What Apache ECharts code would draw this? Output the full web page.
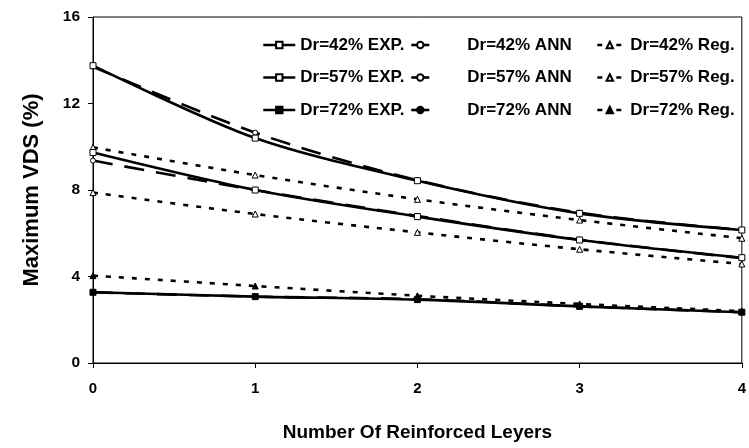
<!DOCTYPE html>
<html><head><meta charset="utf-8">
<script src="https://cdn.jsdelivr.net/npm/echarts@6/dist/echarts.min.js"></script>
<style>html,body{margin:0;padding:0;background:#fff}#c{width:749px;height:448px}</style>
</head><body><div id="c"></div>
<script>
var layers = [0, 1, 2, 3, 4];
var exp42 = [13.75, 10.4, 8.43, 6.92, 6.15];
var ann42 = [13.7, 10.65, 8.45, 6.95, 6.15];
var reg42 = [9.97, 8.69, 7.57, 6.61, 5.77];
var exp57 = [9.73, 8.0, 6.77, 5.69, 4.87];
var ann57 = [9.36, 8.0, 6.8, 5.7, 4.85];
var reg57 = [7.88, 6.89, 6.04, 5.26, 4.58];
var exp72 = [3.27, 3.07, 2.93, 2.62, 2.35];
var ann72 = [3.27, 3.07, 2.95, 2.62, 2.35];
var reg72 = [4.04, 3.56, 3.11, 2.73, 2.4];
var yTicks = [0, 4, 8, 12, 16];

function pts(v){ return layers.map(function(x,i){ return [x, v[i]]; }); }
var font = 'Liberation Sans, Arial, sans-serif';
function mk(name, data, kind, filled){
  var sym = kind==='exp' ? 'rect' : (kind==='ann' ? 'circle' : 'triangle');
  var size = kind==='exp' ? 6 : (kind==='ann' ? 5 : 6);
  var ltype = kind==='exp' ? 'solid' : (kind==='ann' ? [20,12] : [5,8]);
  return {
    name: name, type: 'line', data: pts(data), smooth: 0.3, clip: false,
    symbol: sym, symbolSize: size, showAllSymbol: true,
    lineStyle: {color: '#000', width: 2.6, type: ltype},
    itemStyle: {color: filled ? '#000' : '#fff', borderColor: '#000', borderWidth: 1},
    z: kind==='exp' ? 5 : (kind==='ann' ? 4 : 3)
  };
}
var series = [
  mk('Dr=42% EXP.', exp42, 'exp', false),
  mk('Dr=57% EXP.', exp57, 'exp', false),
  mk('Dr=72% EXP.', exp72, 'exp', true),
  mk('Dr=42% ANN', ann42, 'ann', false),
  mk('Dr=57% ANN', ann57, 'ann', false),
  mk('Dr=72% ANN', ann72, 'ann', true),
  mk('Dr=42% Reg.', reg42, 'reg', false),
  mk('Dr=57% Reg.', reg57, 'reg', false),
  mk('Dr=72% Reg.', reg72, 'reg', true)
];
function leg(names, left, w, padLeft, ltype){
  return {
    orient: 'vertical', left: left, top: 36.5, padding: 0, itemGap: 15.5, itemWidth: w, itemHeight: 8,
    data: names.map(function(n){ return {name: n, lineStyle: {type: ltype, width: 2.6}}; }),
    selectedMode: false,
    textStyle: {fontFamily: font, fontWeight: 'bold', fontSize: 17, color: '#000', padding: [0,0,0,padLeft]}
  };
}
var chart = echarts.init(document.getElementById('c'), null, {renderer: 'canvas'});
chart.setOption({
  animation: false,
  backgroundColor: '#fff',
  grid: {left: 93, right: 2, top: 17, bottom: 85, show: true, borderColor: '#000', borderWidth: 1},
  legend: [
    leg(['Dr=42% EXP.', 'Dr=57% EXP.', 'Dr=72% EXP.'], 262, 32, 0, 'solid'),
    leg(['Dr=42% ANN', 'Dr=57% ANN', 'Dr=72% ANN'], 410, 18, 33, 'solid'),
    leg(['Dr=42% Reg.', 'Dr=57% Reg.', 'Dr=72% Reg.'], 596, 25, 3, [5,14])
  ],
  xAxis: {
    type: 'value', min: 0, max: 4, interval: 1,
    name: 'Number Of Reinforced Leyers', nameLocation: 'middle', nameGap: 60,
    nameTextStyle: {fontFamily: font, fontWeight: 'bold', fontSize: 19, color: '#000'},
    axisLine: {lineStyle: {color: '#000', width: 1}},
    axisTick: {show: true, length: 5, lineStyle: {color: '#000'}},
    axisLabel: {fontFamily: font, fontWeight: 'bold', fontSize: 15, color: '#000', margin: 18},
    splitLine: {show: false}
  },
  yAxis: {
    type: 'value', min: yTicks[0], max: yTicks[yTicks.length-1], interval: 4,
    name: 'Maximum VDS (%)', nameLocation: 'middle', nameGap: 50,
    nameTextStyle: {fontFamily: font, fontWeight: 'bold', fontSize: 22, color: '#000'},
    axisLine: {show: true, lineStyle: {color: '#000', width: 1}},
    axisTick: {show: true, length: 5, lineStyle: {color: '#000'}},
    axisLabel: {fontFamily: font, fontWeight: 'bold', fontSize: 15.5, color: '#000', margin: 13},
    splitLine: {show: false}
  },
  series: series
});
</script></body></html>
